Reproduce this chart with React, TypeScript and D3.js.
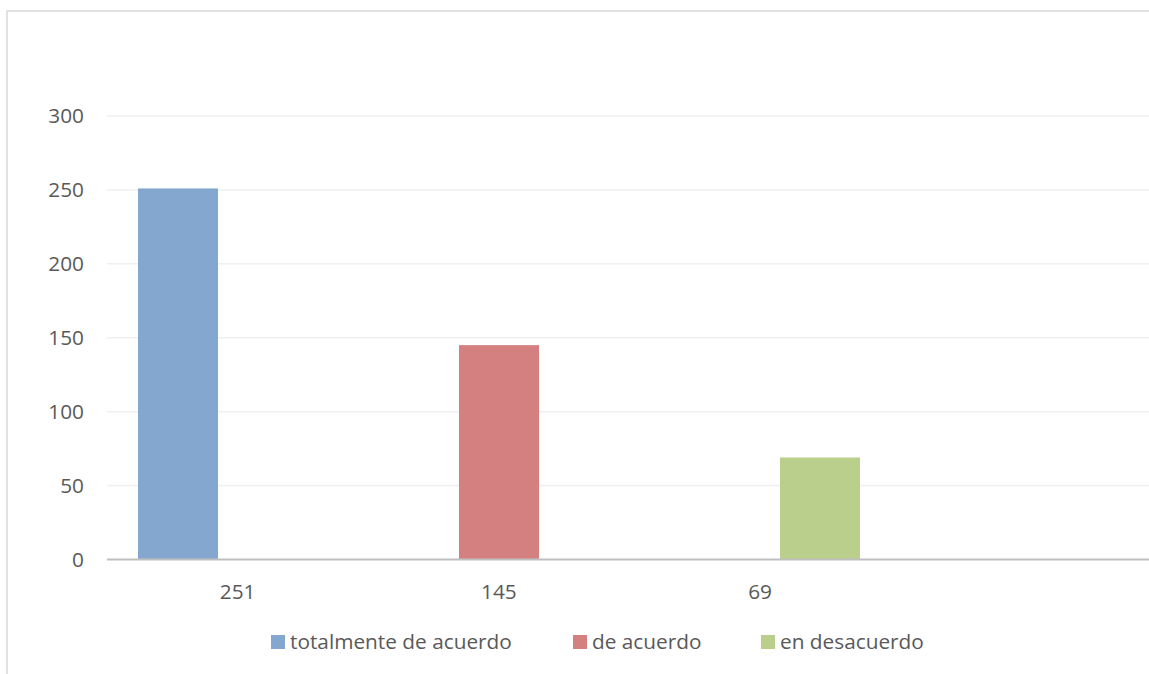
import React from "react";
import * as d3 from "d3";

const categories = ["251", "145", "69", ""];
const seriesNames = ["totalmente de acuerdo", "de acuerdo", "en desacuerdo"];
const seriesValues = [251, 145, 69];
const seriesColors = ["#84A7D0", "#D48081", "#BBCF8C"];
const yTicks = [0, 50, 100, 150, 200, 250, 300];

const W = 1149;
const H = 674;
const plotLeft = 107;
const plotRight = 1152;
const plotTop = 116;
const plotBottom = 559.5;
const font = "'Open Sans', sans-serif";
const textColor = "#595959";
const fs = 20.8;

export default function App() {
  const y = d3.scaleLinear().domain([0, 300]).range([plotBottom, plotTop]);
  const xCat = d3.scaleBand().domain(categories).range([plotLeft, plotRight]);
  const xBar = d3
    .scaleBand()
    .domain(seriesNames)
    .range([138, 860])
    .paddingInner(0.7508)
    .paddingOuter(0);

  const legendX = [271, 573, 761];

  return (
    <svg
      width={W}
      height={H}
      style={{ position: "absolute", left: 0, top: 0, background: "#fff" }}
    >
      <rect x={7} y={11} width={1200} height={700} fill="#fff" stroke="#d9d9d9" strokeWidth={1.5} />
      {yTicks.map((t) => (
        <g key={t}>
          {t !== 0 && (
            <line x1={plotLeft} x2={W} y1={y(t)} y2={y(t)} stroke="#efefef" strokeWidth={1.5} />
          )}
          <text
            x={84}
            y={y(t)}
            dy="0.36em"
            textAnchor="end"
            fontFamily={font}
            fontSize={fs}
            fill={textColor}
          >
            {t}
          </text>
        </g>
      ))}
      {seriesNames.map((s, i) => (
        <rect
          key={s}
          x={xBar(s)}
          width={xBar.bandwidth()}
          y={y(seriesValues[i])}
          height={y(0) - y(seriesValues[i])}
          fill={seriesColors[i]}
        />
      ))}
      <line x1={plotLeft} x2={W} y1={plotBottom} y2={plotBottom} stroke="#bfbfbf" strokeWidth={2} />
      {categories.map((c) => (
        <text
          key={c + "lbl"}
          x={(xCat(c) ?? 0) + xCat.bandwidth() / 2}
          y={599}
          textAnchor="middle"
          fontFamily={font}
          fontSize={fs}
          fill={textColor}
        >
          {c}
        </text>
      ))}
      {seriesNames.map((s, i) => (
        <g key={s + "leg"}>
          <rect x={legendX[i]} y={635} width={14} height={14} fill={seriesColors[i]} />
          <text
            x={legendX[i] + 19}
            y={649}
            fontFamily={font}
            fontSize={fs}
            fill={textColor}
          >
            {s}
          </text>
        </g>
      ))}
    </svg>
  );
}
